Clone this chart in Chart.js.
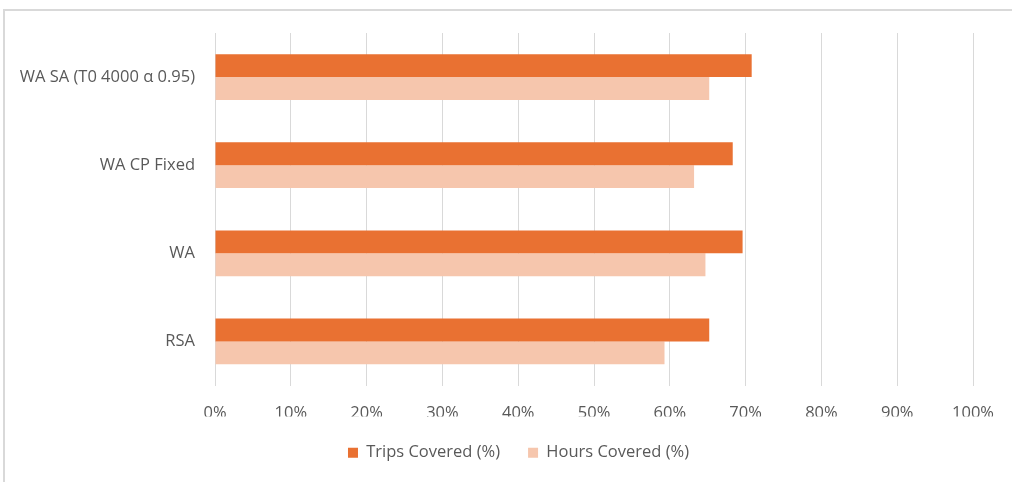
<!DOCTYPE html>
<html>
<head>
<meta charset="utf-8">
<script src="https://cdn.jsdelivr.net/npm/chart.js@4/dist/chart.umd.min.js"></script>
<style>
  html, body { margin: 0; padding: 0; background: #fff; overflow: hidden; }
  #frame {
    position: absolute; left: 3px; top: 9px; width: 1100px; height: 600px;
    border-top: 2px solid #d9d9d9; border-left: 2px solid #d9d9d9;
  }
  #wrap { position: absolute; left: 0; top: 0; width: 1012px; height: 482px; }
</style>
</head>
<body>
<div id="frame"></div>
<div id="wrap"><canvas id="myChart"></canvas></div>
<script>
const categories = ['WA SA (T0 4000 \u03b1 0.95)', 'WA CP Fixed', 'WA', 'RSA'];
const tripsCovered = [70.8, 68.3, 69.6, 65.2];
const hoursCovered = [65.2, 63.2, 64.7, 59.3];
const tickValues = [0, 10, 20, 30, 40, 50, 60, 70, 80, 90, 100];

const textColor = '#595959';
const fontFamily = "'Open Sans', 'Liberation Sans', sans-serif";

// nudge the legend row a little to the right of the canvas centre
const legendShift = {
  id: 'legendShift',
  afterLayout(chart) {
    chart.legend.left += 30;
    chart.legend.right += 30;
  }
};

const ctx = document.getElementById('myChart');

const chart = new Chart(ctx, {
  type: 'bar',
  data: {
    labels: categories,
    datasets: [{
      label: 'Trips Covered (%)',
      data: tripsCovered,
      backgroundColor: '#E97132'
    }, {
      label: 'Hours Covered (%)',
      data: hoursCovered,
      backgroundColor: '#F6C6AD'
    }]
  },
  options: {
    indexAxis: 'y',
    responsive: true,
    maintainAspectRatio: false,
    animation: false,
    categoryPercentage: 0.52,
    barPercentage: 1,
    layout: {
      padding: { left: 0, right: 35, top: 33, bottom: 11 }
    },
    scales: {
      x: {
        min: 0,
        max: 100,
        afterBuildTicks: (scale) => {
          scale.ticks = tickValues.map(v => ({ value: v }));
        },
        afterFit: (scale) => { scale.height = 31; },
        ticks: {
          color: textColor,
          font: { family: fontFamily, size: 16.5 },
          padding: 18,
          callback: (v) => v + '%'
        },
        grid: { color: '#d9d9d9', lineWidth: 1, drawTicks: false },
        border: { display: false }
      },
      y: {
        afterFit: (scale) => { scale.width = 215; },
        ticks: {
          color: textColor,
          font: { family: fontFamily, size: 16.5 },
          padding: 12
        },
        grid: { display: false },
        border: { display: false }
      }
    },
    plugins: {
      legend: {
        position: 'bottom',
        maxHeight: 65,
        labels: {
          color: textColor,
          font: { family: fontFamily, size: 16.5 },
          boxWidth: 10,
          boxHeight: 10,
          padding: 28
        }
      },
      tooltip: { enabled: false }
    }
  },
  plugins: [legendShift]
});
</script>
</body>
</html>
